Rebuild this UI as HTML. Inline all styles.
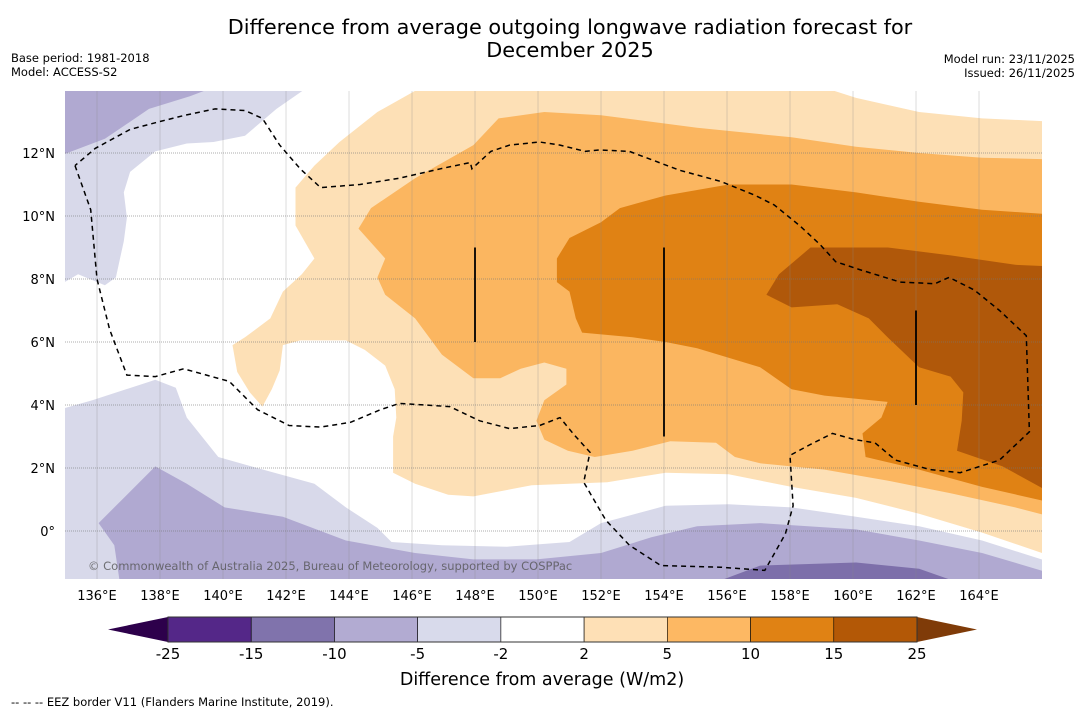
<!DOCTYPE html>
<html><head><meta charset="utf-8">
<style>
body{margin:0;background:#fff;width:1085px;height:713px;overflow:hidden;font-family:"DejaVu Sans","Liberation Sans",sans-serif;}
svg{display:block}
</style></head>
<body>
<svg id="chart" width="1085" height="713" viewBox="0 0 1085 713" xmlns="http://www.w3.org/2000/svg">
<text x="570" y="34" font-size="20.8" text-anchor="middle" fill="#000">Difference from average outgoing longwave radiation forecast for</text>
<text x="570" y="57" font-size="20.8" text-anchor="middle" fill="#000">December 2025</text>
<text x="11" y="62" font-size="11.5" fill="#000">Base period: 1981-2018</text>
<text x="11" y="76" font-size="11.5" fill="#000">Model: ACCESS-S2</text>
<text x="1075" y="63" font-size="11.5" text-anchor="end" fill="#000">Model run: 23/11/2025</text>
<text x="1075" y="77" font-size="11.5" text-anchor="end" fill="#000">Issued: 26/11/2025</text>
<defs><clipPath id="mapclip"><rect x="65" y="91" width="977" height="488"/></clipPath></defs>
<g id="map" clip-path="url(#mapclip)"></g>
<g id="axes"></g>
<text x="88" y="570" font-size="11.5" fill="#555" fill-opacity="0.8">© Commonwealth of Australia 2025, Bureau of Meteorology, supported by COSPPac</text>
<g id="cbar"></g>
<text x="542" y="685" font-size="17.5" text-anchor="middle" fill="#000">Difference from average (W/m2)</text>
<text x="11" y="706" font-size="11.5" fill="#000">--  --  -- EEZ border V11 (Flanders Marine Institute, 2019).</text>
</svg>
<script>
const lonTicks=[136,138,140,142,144,146,148,150,152,154,156,158,160,162,164];
const latTicks=[0,2,4,6,8,10,12];
const cbLevels=["-25","-15","-10","-5","-2","2","5","10","15","25"];
const cbColors=["#542788","#8073ac","#b2abd2","#d8daeb","#ffffff","#fee0b6","#fdb863","#e08214","#b35806"];
const purpleTopDark=[[134.8,14.2],[140.0,14.2],[138.95,13.8],[137.65,13.4],[136.25,12.45],[134.8,11.9]];
const purpleTopLight=[[134.8,14.2],[142.85,14.2],[141.7,13.4],[140.7,12.55],[139.7,12.35],[138.85,12.3],[137.85,12.05],[137.05,11.4],[136.85,10.75],[136.95,9.95],[136.85,9.2],[136.6,8.05],[136.25,7.8],[135.4,8.15],[134.8,7.8]];
const purpleBotLight=[[134.8,3.85],[135.85,4.15],[137.85,4.8],[138.5,4.55],[138.85,3.6],[139.85,2.35],[140.9,2.05],[142.9,1.5],[143.9,0.75],[144.9,0.1],[145.35,-0.35],[146.95,-0.45],[149.0,-0.5],[151.0,-0.35],[152.0,0.25],[154.05,0.8],[156.05,0.85],[158.05,0.75],[160.1,0.45],[162.1,0.15],[164.1,-0.3],[166.3,-1.0],[166.3,-1.8],[134.8,-1.8]];
const purpleBotMid=[[136.05,0.25],[137.85,2.05],[138.85,1.5],[140.05,0.75],[141.9,0.45],[143.9,-0.3],[146.1,-0.7],[147.95,-0.9],[149.95,-0.9],[152.0,-0.7],[153.6,-0.2],[155.05,0.15],[157.05,0.25],[160.1,0.05],[162.1,-0.3],[164.1,-0.7],[166.3,-1.35],[166.3,-1.8],[136.75,-1.8],[136.55,-0.45]];
const purpleBotDark=[[155.6,-1.8],[155.85,-1.55],[157.05,-1.1],[160.1,-1.0],[162.1,-1.2],[163.1,-1.55],[163.4,-1.8]];
const orangeLight=[[146.5,14.2],[158.7,14.2],[160.1,13.75],[162.1,13.3],[164.1,13.1],[166.3,13.0],[166.3,-0.8],[164.1,-0.05],[162.1,0.55],[160.1,1.05],[158.05,1.4],[156.05,1.8],[154.05,1.85],[152.2,1.55],[149.8,1.45],[147.95,1.1],[147.15,1.15],[146.1,1.5],[145.4,1.85],[145.4,3.0],[145.5,3.6],[145.45,4.5],[145.15,5.25],[144.5,5.75],[143.9,6.05],[142.45,6.05],[141.9,5.9],[141.8,5.1],[141.55,4.5],[141.25,3.95],[140.85,4.4],[140.45,5.05],[140.3,5.9],[140.7,6.15],[141.5,6.75],[141.9,7.6],[142.5,8.15],[142.9,8.65],[142.3,9.7],[142.3,10.9],[142.9,11.6],[143.7,12.35],[144.9,13.3]];
const orangeMid=[[148.75,13.1],[150.2,13.3],[152.0,13.2],[155.05,12.8],[158.05,12.5],[160.1,12.2],[162.1,12.0],[164.1,11.85],[166.3,11.8],[166.3,0.45],[165.15,0.75],[163.1,1.2],[161.1,1.6],[159.1,1.95],[157.05,2.15],[156.25,2.35],[155.65,2.8],[154.2,2.85],[153.0,2.55],[151.8,2.35],[150.95,2.55],[150.2,2.9],[149.95,3.5],[150.2,4.15],[150.9,4.65],[150.9,5.15],[150.2,5.35],[149.45,5.15],[148.8,4.85],[147.95,4.85],[146.95,5.6],[146.1,6.75],[145.15,7.5],[144.9,8.05],[145.15,8.65],[144.3,9.6],[144.7,10.25],[146.1,11.2],[147.95,12.25]];
const orangeDark=[[156.05,11.0],[158.05,11.0],[160.1,10.75],[162.1,10.45],[164.1,10.2],[166.3,10.05],[166.3,0.9],[164.1,1.4],[162.1,1.95],[160.4,2.35],[160.3,3.1],[160.9,3.6],[161.1,4.1],[159.1,4.3],[158.05,4.5],[157.05,5.2],[156.05,5.5],[155.05,5.8],[154.05,6.0],[153.0,6.15],[151.4,6.3],[151.2,6.75],[151.0,7.6],[150.6,7.9],[150.6,8.65],[151.0,9.3],[152.0,9.8],[152.6,10.25],[154.05,10.65]];
const orangeDarkest=[[158.65,9.0],[161.1,9.0],[163.1,8.75],[165.15,8.45],[166.3,8.4],[166.3,1.2],[164.75,2.05],[163.3,2.55],[163.45,3.5],[163.5,4.4],[163.1,4.9],[162.1,5.2],[161.1,6.15],[160.5,6.75],[159.5,7.2],[158.05,7.1],[157.25,7.5],[157.65,8.15]];
const eezLine=[[135.3,11.6],[135.8,10.2],[136.0,8.0],[136.4,6.4],[136.95,4.95],[137.85,4.9],[138.75,5.15],[140.2,4.75],[141.1,3.85],[142.1,3.35],[143.1,3.3],[144.05,3.45],[145.0,3.85],[145.6,4.05],[147.2,3.95],[148.15,3.5],[149.1,3.25],[150.05,3.35],[150.7,3.6],[151.15,3.05],[151.65,2.5],[151.45,1.55],[152.15,0.35],[152.9,-0.45],[153.9,-1.1],[155.8,-1.15],[157.2,-1.25],[157.85,-0.1],[158.1,0.8],[158.0,2.4],[158.65,2.75],[159.35,3.1],[160.05,2.9],[160.7,2.8],[161.35,2.25],[162.45,1.95],[163.4,1.85],[164.65,2.25],[165.6,3.15],[165.5,6.2],[164.65,7.0],[163.85,7.65],[163.05,8.05],[162.6,7.85],[161.5,7.9],[160.2,8.3],[159.45,8.55],[158.95,9.1],[158.3,9.7],[157.5,10.35],[156.9,10.65],[155.8,11.1],[154.5,11.45],[152.9,12.05],[151.95,12.1],[151.5,12.05],[150.7,12.25],[150.05,12.35],[149.1,12.25],[148.5,12.05],[147.9,11.5],[147.85,11.7],[146.9,11.5],[145.6,11.2],[144.35,11.0],[143.1,10.9],[142.45,11.5],[141.8,12.25],[141.25,13.1],[140.7,13.35],[139.75,13.4],[138.8,13.2],[138.0,13.0],[137.05,12.75],[135.95,12.15],[135.3,11.6]];
const segLines=[[148,9,6],[154,9,3],[162,7,4]];

const NS="http://www.w3.org/2000/svg";
const X0=65.5,Y0=531,K=31.5;
function xs(lon){return X0+(lon-135)*K;}
function ys(lat){return Y0-lat*K;}
function mk(tag,attrs,parent){const e=document.createElementNS(NS,tag);for(const k in attrs)e.setAttribute(k,attrs[k]);parent.appendChild(e);return e;}
function pts(arr){return arr.map(p=>xs(p[0]).toFixed(1)+","+ys(p[1]).toFixed(1)).join(" ");}
const map=document.getElementById("map"),axes=document.getElementById("axes"),cbar=document.getElementById("cbar");
mk("rect",{x:65,y:91,width:977,height:488,fill:"#fff"},map);
const layers=[
 [purpleTopLight,"#d8d9ea","region-minus5-top"],[purpleTopDark,"#b0a9d1","region-minus10-top"],
 [purpleBotLight,"#d8d9ea","region-minus5-south"],[purpleBotMid,"#b0a9d1","region-minus10-south"],[purpleBotDark,"#7d6faa","region-minus15-south"],
 [orangeLight,"#fde0b6","region-plus2"],[orangeMid,"#fbb660","region-plus5"],[orangeDark,"#e08214","region-plus10"],[orangeDarkest,"#b0580a","region-plus15"]];
layers.forEach(l=>{
 const p=mk("polygon",{points:pts(l[0]),fill:l[1]},map);
 
 
});
lonTicks.forEach(t=>{
 const g=mk("line",{x1:xs(t),x2:xs(t),y1:91,y2:579,stroke:"#888","stroke-width":0.5,"stroke-opacity":0.6},map);
 
 
 const tx=mk("text",{x:xs(t),y:600,"font-size":13,"text-anchor":"middle",fill:"#000"},axes);
 tx.textContent=t+"°E";
 
 
});
latTicks.forEach(t=>{
 const g=mk("line",{x1:65,x2:1042,y1:ys(t),y2:ys(t),stroke:"#777","stroke-width":1,"stroke-dasharray":"1,1","stroke-opacity":0.6},map);
 
 
 const tx=mk("text",{x:55,y:ys(t)+5,"font-size":13,"text-anchor":"end",fill:"#000"},axes);
 tx.textContent=t===0?"0°":t+"°N";
 
 
});
segLines.forEach(s=>{
 const l=mk("line",{x1:xs(s[0]),x2:xs(s[0]),y1:ys(s[1]),y2:ys(s[2]),stroke:"#000","stroke-width":1.8},map);
 
 
});
const eez=mk("polyline",{points:pts(eezLine),fill:"none",stroke:"#000","stroke-width":1.5,"stroke-dasharray":"5,4"},map);


const cbX0=168,cbX1=917,cbY=617,cbH=25,n=cbColors.length,w=(cbX1-cbX0)/n;
const lt=mk("polygon",{points:`108,${cbY+cbH/2} ${cbX0},${cbY} ${cbX0},${cbY+cbH}`,fill:"#2d004b"},cbar);


const rt=mk("polygon",{points:`977,${cbY+cbH/2} ${cbX1},${cbY} ${cbX1},${cbY+cbH}`,fill:"#7f3b08"},cbar);


cbColors.forEach((c,i)=>{
 const r=mk("rect",{x:cbX0+i*w,y:cbY,width:w,height:cbH,fill:c,stroke:"#000","stroke-width":0.6},cbar);
 
 
});
mk("rect",{x:cbX0,y:cbY,width:cbX1-cbX0,height:cbH,fill:"none",stroke:"#333","stroke-width":1},cbar);
cbLevels.forEach((v,i)=>{
 const tx=mk("text",{x:cbX0+i*w,y:659,"font-size":15,"text-anchor":"middle",fill:"#000"},cbar);
 tx.textContent=v;
 
 
});
</script>
</body></html>
